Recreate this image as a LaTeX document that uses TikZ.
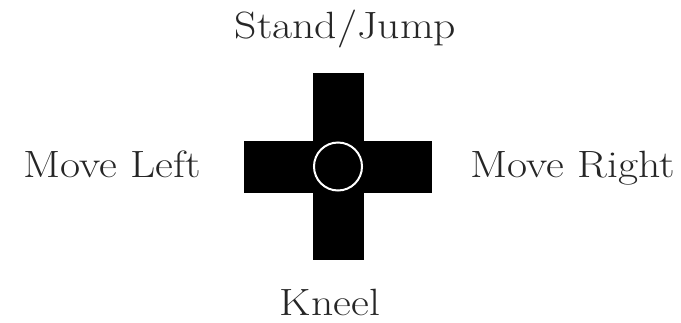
\documentclass[tikz,border=0pt]{standalone}
\usetikzlibrary{math}
\newcommand{\widetext}[1]{\scalebox{1.15}[1]{#1}}
\tikzset{
  padlabel/.style={anchor=base, inner sep=0pt, text=black!85,
    font=\fontsize{38}{44}\selectfont},
}

\begin{document}
\begin{tikzpicture}[x=1pt,y=-1pt]
\tikzmath{
\cx=338; \cy=166.5;
\arm=26;
\len=94;
}
\useasboundingbox (0,0) rectangle (681,322);

% the pad
\fill (\cx-\arm+0.5,\cy-\len+0.5) rectangle (\cx+\arm,\cy+\len-0.5);
\fill (\cx-\len-0.5,\cy-\arm) rectangle (\cx+\len,\cy+\arm);
\draw[white, line width=2] (\cx,\cy) circle (24pt);

\node[padlabel] (jump) at (345.5,38) {\widetext{Stand/Jump}};
\node[padlabel] (moveleft) at (112,177) {\widetext{Move Left}};
\node[padlabel] (moveright) at (573,177) {\widetext{Move Right}};
\node[padlabel] (kneel) at (330,315) {\widetext{Kneel}};
\end{tikzpicture}
\end{document}
